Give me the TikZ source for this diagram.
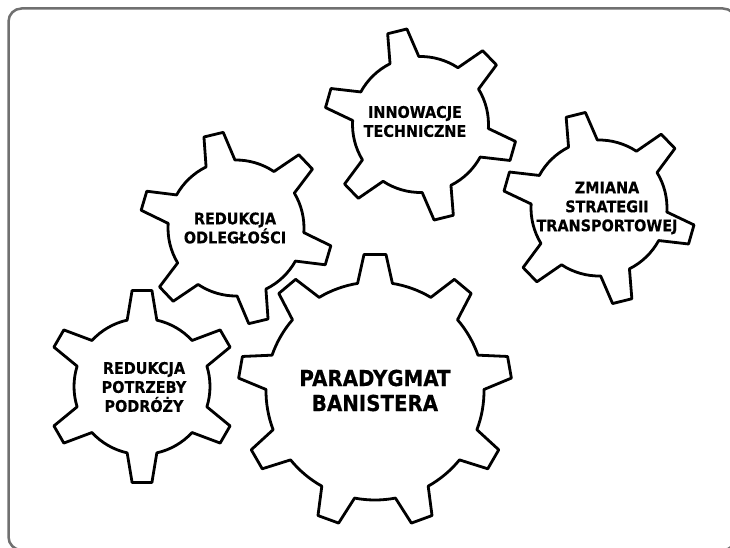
\documentclass[tikz,border=0pt]{standalone}
\usepackage{fontspec}
\newfontfamily\gearfont{DejaVu Sans}[FakeStretch=0.9, BoldFeatures={FakeBold=0.4}]
\definecolor{frameGray}{HTML}{707070}
\tikzset{
  gearline/.style={draw=black, fill=white, line width=2.8pt, line join=round},
  smalltext/.style={align=center, font=\gearfont\bfseries\fontsize{16}{19}\selectfont, inner sep=0pt},
  bigtext/.style={align=center, font=\gearfont\bfseries\fontsize{22}{25}\selectfont, inner sep=0pt},
  framebox/.style={draw=frameGray, line width=2.5pt, rounded corners=13pt}
}
% #1 name, #2 cx, #3 cy (image coords), #4 teeth, #5 rotation, #6 inner r, #7 outer r, #8 base half-angle, #9 tip half-angle
\newcommand{\mygear}[9]{%
  \begin{scope}[shift={(#2,547-#3)}]
    \pgfmathsetmacro\gstep{360/#4}
    \pgfmathtruncatemacro\glast{#4-1}
    \draw[gearline] ({#5+#8}:#6)
      \foreach \k in {0,...,\glast}{
        -- ({#5-\k*\gstep+#9}:#7) -- ({#5-\k*\gstep-#9}:#7) -- ({#5-\k*\gstep-#8}:#6)
        arc[start angle={#5-\k*\gstep-#8}, end angle={#5-(\k+1)*\gstep+#8}, radius=#6]
      } -- cycle;
    \coordinate (#1) at (0,0);
  \end{scope}}
\begin{document}
\begin{tikzpicture}[x=1pt,y=1pt]
  \useasboundingbox (0,0) rectangle (730,547);
  \begin{scope}
    \clip (0,0) rectangle (730,547);
    \draw[framebox] (8.5,538.5) rectangle (736,-3);
  \end{scope}
  \mygear{gD}{142}{386.5}{6}{90}{68}{96.5}{12.6}{5.9}
  \mygear{gA}{236}{228}{6}{43.5}{68}{96.5}{12.6}{5.9}
  \mygear{gB}{420.5}{124.5}{6}{44}{68}{96.5}{12.6}{5.9}
  \mygear{gC}{599}{208}{6}{44}{68}{96.5}{12.6}{5.9}
  \mygear{gE}{375}{391}{9}{90}{109}{137}{9.2}{4.6}
  \node[smalltext] (tA) at (235,547-228) {REDUKCJA\\ODLEGŁOŚCI};
  \node[smalltext] (tB) at (415,547-121.5) {INNOWACJE\\TECHNICZNE};
  \node[smalltext] (tC) at (607,547-208) {ZMIANA\\STRATEGII\\TRANSPORTOWEJ};
  \node[smalltext] (tD) at (144,547-387) {REDUKCJA\\POTRZEBY\\PODRÓŻY};
  \node[bigtext] (tE) at (375,547-390.5) {PARADYGMAT\\BANISTERA};
\end{tikzpicture}
\end{document}
